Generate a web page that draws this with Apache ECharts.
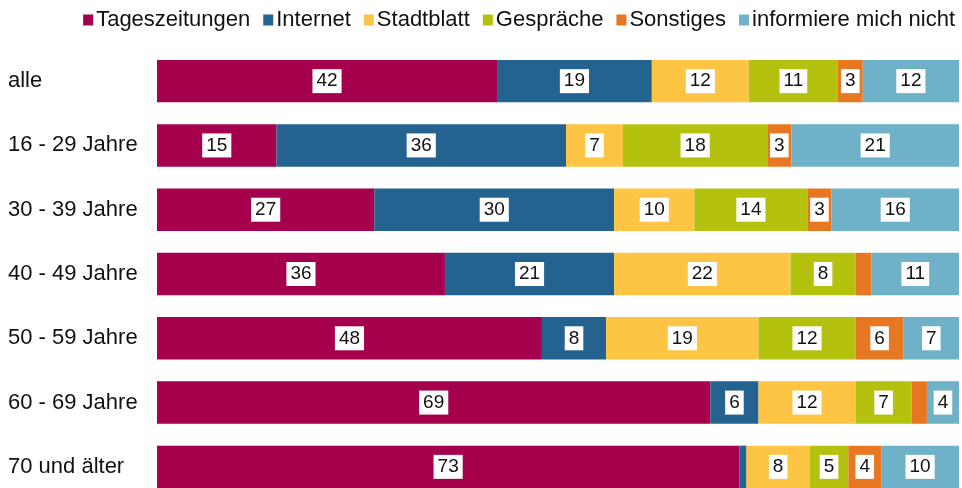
<!DOCTYPE html>
<html>
<head>
<meta charset="utf-8">
<script src="https://cdn.jsdelivr.net/npm/echarts@6/dist/echarts.min.js"></script>
<style>
  html, body { margin: 0; padding: 0; background: #fff; }
  #chart { width: 962px; height: 488px; }
</style>
</head>
<body>
<div id="chart"></div>
<script>
// Altersgruppen
const categories = ['alle', '16 - 29 Jahre', '30 - 39 Jahre', '40 - 49 Jahre', '50 - 59 Jahre', '60 - 69 Jahre', '70 und älter']

// Anteile in %
const tageszeitungen = [42.4, 14.9, 27.1, 35.9, 48.0, 69.0, 72.6]
const internet = [19.3, 36.1, 29.9, 21.1, 8.0, 6.0, 0.9]
const stadtblatt = [12.1, 7.1, 10.0, 22.0, 19.0, 12.1, 7.9]
const gespraeche = [11.1, 18.0, 14.1, 8.1, 12.1, 7.0, 4.8]
const sonstiges = [3.1, 3.0, 3.0, 2.0, 6.0, 1.9, 4.1]
const informiereNicht = [12.0, 20.9, 16.0, 10.9, 6.9, 4.0, 9.7]

const seriesDefs = [
  { name: 'Tageszeitungen', data: tageszeitungen, color: '#a5004d' },
  { name: 'Internet', data: internet, color: '#246290' },
  { name: 'Stadtblatt', data: stadtblatt, color: '#fdc543' },
  { name: 'Gespräche', data: gespraeche, color: '#b5c10f' },
  { name: 'Sonstiges', data: sonstiges, color: '#e87722' },
  { name: 'informiere mich nicht', data: informiereNicht, color: '#6fb1c8' }
]

const fontFamily = 'Liberation Sans, Arial, sans-serif'

const chart = echarts.init(document.getElementById('chart'))

chart.setOption({
  animation: false,
  legend: {
    top: 4,
    right: 2,
    icon: 'rect',
    itemWidth: 10,
    itemHeight: 11,
    itemGap: 13,
    textStyle: {
      fontFamily,
      fontSize: 22,
      color: '#111',
      padding: [0, 0, 0, -2]
    }
  },
  grid: {
    left: 157,
    right: 3,
    top: 49,
    height: 450,
    outerBoundsMode: 'none',
    containLabel: false
  },
  xAxis: {
    type: 'value',
    min: 0,
    max: 100,
    show: false
  },
  yAxis: {
    type: 'category',
    data: categories,
    inverse: true,
    axisLine: { show: false },
    axisTick: { show: false },
    axisLabel: {
      align: 'left',
      margin: 149,
      fontFamily,
      fontSize: 22,
      color: '#111'
    }
  },
  series: seriesDefs.map(s => ({
    name: s.name,
    type: 'bar',
    stack: 'total',
    barWidth: '66%',
    // kleine Segmente ohne Beschriftung
    data: s.data.map(v => (v < 2.5 ? { value: v, label: { show: false } } : v)),
    itemStyle: { color: s.color },
    label: {
      show: true,
      position: 'inside',
      formatter: p => Math.round(p.value),
      fontFamily,
      fontSize: 19,
      color: '#111',
      backgroundColor: '#fff',
      padding: [3, 4, 2, 4]
    }
  }))
})
</script>
</body>
</html>
